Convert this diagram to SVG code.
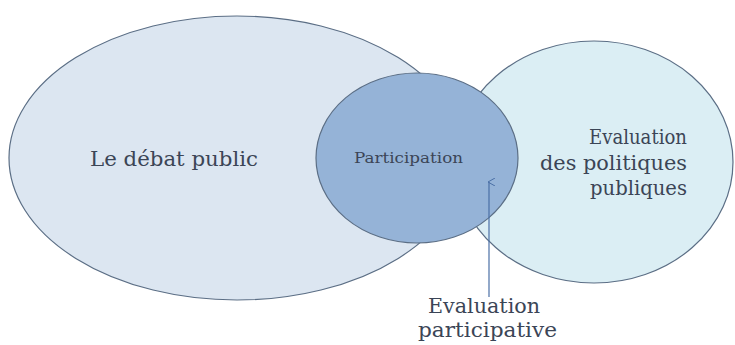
<svg xmlns="http://www.w3.org/2000/svg" width="735" height="345" viewBox="0 0 735 345">
<style>
.shape{stroke:#5b6e85;stroke-width:1.2}
.lbl{font-family:"DejaVu Serif","Liberation Serif",serif;fill:#3b4556}
</style>
<defs>
<marker id="ah" markerWidth="8" markerHeight="8" refX="4" refY="1" orient="auto" markerUnits="userSpaceOnUse" viewBox="0 0 8 8">
<path d="M0,7 L4,0 L8,7" fill="none" stroke="#4a6fa5" stroke-width="1"/>
</marker>
</defs>
<rect width="735" height="345" fill="#ffffff"/>
<g id="debat">
<ellipse class="shape" cx="237" cy="158" rx="228" ry="142" fill="#dce6f1"/>
<text class="lbl" x="90" y="166" font-size="21" textLength="168" lengthAdjust="spacingAndGlyphs">Le débat public</text>
</g>
<g id="evaluation">
<ellipse class="shape" cx="594" cy="162" rx="139" ry="121" fill="#dbeef4"/>
<text class="lbl" font-size="21" text-anchor="end"><tspan x="687" y="144" textLength="98" lengthAdjust="spacingAndGlyphs">Evaluation</tspan></text>
<text class="lbl" font-size="21" text-anchor="end"><tspan x="687" y="170" textLength="147" lengthAdjust="spacingAndGlyphs">des politiques</tspan></text>
<text class="lbl" font-size="21" text-anchor="end"><tspan x="687" y="195" textLength="97" lengthAdjust="spacingAndGlyphs">publiques</tspan></text>
</g>
<g id="participation">
<ellipse class="shape" cx="417" cy="158" rx="101" ry="85" fill="#95b3d7"/>
<text class="lbl" x="354" y="163" font-size="14" textLength="109" lengthAdjust="spacingAndGlyphs">Participation</text>
</g>
<g id="connectors">
<line x1="489" y1="297" x2="489" y2="182" stroke="#4a6fa5" stroke-width="1.2" marker-end="url(#ah)"/>
</g>
<g id="evalpart">
<text class="lbl" font-size="21" x="428" y="313" textLength="112" lengthAdjust="spacingAndGlyphs">Evaluation</text>
<text class="lbl" font-size="21" x="418" y="337" textLength="139" lengthAdjust="spacingAndGlyphs">participative</text>
</g>
</svg>
